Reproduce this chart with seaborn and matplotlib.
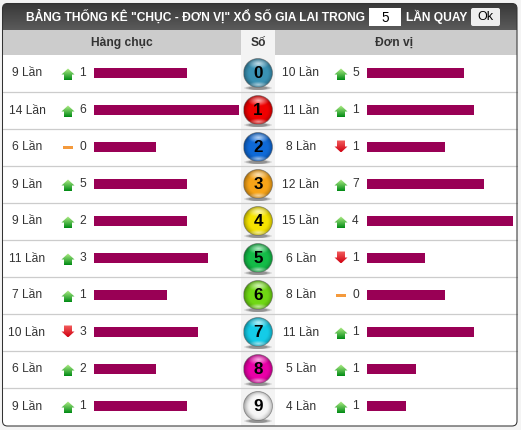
import numpy as np
import pandas as pd
import matplotlib
matplotlib.use("Agg")
import matplotlib.pyplot as plt
from matplotlib.colors import to_rgb
from matplotlib.patches import Circle, Ellipse, FancyBboxPatch, Polygon, Rectangle
import seaborn as sns

digits = ["0", "1", "2", "3", "4", "5", "6", "7", "8", "9"]
tens_counts = [9, 14, 6, 9, 9, 11, 7, 10, 6, 9]
tens_change = [1, 6, 0, 5, 2, 3, 1, -3, 2, 1]
units_counts = [10, 11, 8, 12, 15, 6, 8, 11, 5, 4]
units_change = [5, 1, -1, 7, 4, -1, 0, 1, 1, 1]
ball_colors = ["#3a92b4", "#f00000", "#0f6ad8", "#f8a418", "#f6e400",
               "#14bc48", "#70d814", "#14cce8", "#ea00a8", "#f6f6f6"]
title_left = 'BẢNG THỐNG KÊ "CHỤC - ĐƠN VỊ" XỔ SỐ GIA LAI TRONG'
title_right = "LẦN QUAY"
draw_count = "5"
button_label = "Ok"
tens_header = "Hàng chục"
units_header = "Đơn vị"
digit_header = "Số"
count_suffix = "Lần"

W, H = 521, 430
ROW0, ROW_H = 55, 37
BAR_COLOR = "#990055"
TEXT = "#333333"

sns.set_theme(style="white")
plt.rcParams["font.family"] = ["Liberation Sans", "DejaVu Sans"]

fig = plt.figure(figsize=(W / 100, H / 100), dpi=100, facecolor="#f4f4f4")
bg = fig.add_axes([0, 0, 1, 1], zorder=0)
bg.set_xlim(0, W)
bg.set_ylim(H, 0)
bg.axis("off")


def px(size):
    return size * 72 / 100


def gradient_patch(ax, patch, top, bottom, extent, zorder=2):
    """Fill a patch with a vertical two-colour gradient."""
    t = np.linspace(0, 1, 64)[:, None, None]
    img = (1 - t) * np.array(to_rgb(top))[None, None, :] + t * np.array(to_rgb(bottom))[None, None, :]
    patch.set(facecolor="none", edgecolor="none")
    ax.add_patch(patch)
    im = ax.imshow(img, extent=extent, aspect="auto", zorder=zorder, interpolation="bilinear")
    im.set_clip_path(patch)
    ax.set_xlim(0, W)
    ax.set_ylim(H, 0)


# Table body
bg.add_patch(FancyBboxPatch((2.5, 3.5), 514.5, 422.5, boxstyle="round,pad=0,rounding_size=5",
                            fc="white", ec="none", zorder=1))

# Dark title bar with rounded upper corners
bar_path = FancyBboxPatch((2.5, 3.5), 514.5, 40, boxstyle="round,pad=0,rounding_size=5")
bar_path.set_transform(bg.transData)
gradient_patch(bg, bar_path, "#383838", "#5c5c5c", (2.5, 517, 31, 3.5), zorder=2)
bg.add_patch(Rectangle((2.5, 30), 514.5, 25, fc="#cccccc", ec="none", zorder=3))
bg.add_patch(Rectangle((241, 30), 34, 396, fc="#f3f3f3", ec="none", zorder=3))

bg.text(195, 16.5, title_left, color="white", fontsize=px(12), fontweight="bold",
        ha="center", va="center", zorder=6)
bg.text(436.5, 16.5, title_right, color="white", fontsize=px(12), fontweight="bold",
        ha="center", va="center", zorder=6)
bg.add_patch(Rectangle((369, 8), 32, 18, fc="white", ec="none", zorder=5))
bg.text(385, 17.5, draw_count, color="black", fontsize=px(13.5), ha="center", va="center", zorder=6)
bg.add_patch(FancyBboxPatch((471, 8), 29, 18, boxstyle="round,pad=0,rounding_size=2",
                            fc="#eeeeee", ec="none", zorder=5))
bg.text(485.5, 17.5, button_label, color="black", fontsize=px(12.5), ha="center", va="center", zorder=6)

bg.text(122, 43, tens_header, color=TEXT, fontsize=px(12), fontweight="bold",
        ha="center", va="center", zorder=6)
bg.text(258, 43, digit_header, color=TEXT, fontsize=px(12), fontweight="bold",
        ha="center", va="center", zorder=6)
bg.text(394, 43, units_header, color=TEXT, fontsize=px(12), fontweight="bold",
        ha="center", va="center", zorder=6)


def draw_change(ax, x, y, value):
    """Trend marker: green up arrow, red down arrow or orange dash."""
    if value > 0:
        pts = [(x - 6.5, y + 1), (x, y - 5), (x + 6.5, y + 1), (x + 4, y + 1),
               (x + 4, y + 7), (x - 4, y + 7), (x - 4, y + 1)]
        gradient_patch(ax, Polygon(pts, closed=True), "#b4f08a", "#008a14",
                       (x - 7, x + 7, y + 7, y - 5), zorder=5)
    elif value < 0:
        pts = [(x - 4, y - 7), (x + 4, y - 7), (x + 4, y - 1), (x + 6.5, y - 1),
               (x, y + 5), (x - 6.5, y - 1), (x - 4, y - 1)]
        gradient_patch(ax, Polygon(pts, closed=True), "#f46060", "#d00010",
                       (x - 7, x + 7, y + 5, y - 7), zorder=5)
    else:
        ax.add_patch(Rectangle((x - 5, y - 2), 10, 3, fc="#f49a3c", ec="none", zorder=5))


def draw_ball(ax, cx, cy, color, label):
    """Glossy numbered ball with a soft shadow underneath."""
    r = 14.5
    for width, alpha in ((28, 0.18), (24, 0.25), (19, 0.35)):
        ax.add_patch(Ellipse((cx, cy + 15), width, 4, fc="#555555", ec="none",
                             alpha=alpha, zorder=4))
    n = 120
    xs = np.linspace(-1, 1, n)
    xx, yy = np.meshgrid(xs, xs)
    base = np.array(to_rgb(color))
    d = np.sqrt(xx ** 2 + (yy - 0.05) ** 2)
    shade = np.clip(1.08 - 0.4 * d ** 3.5, 0, 1)
    img = np.clip(base[None, None, :] * shade[:, :, None], 0, 1)
    top_gloss = np.clip(1 - np.sqrt((xx / 0.75) ** 2 + ((yy + 0.62) / 0.38) ** 2), 0, 1)[:, :, None]
    img = img * (1 - 0.7 * top_gloss) + 0.7 * top_gloss
    low_gloss = np.clip(1 - np.sqrt((xx / 0.7) ** 2 + ((yy - 0.85) / 0.22) ** 2), 0, 1)[:, :, None]
    img = img * (1 - 0.6 * low_gloss) + 0.6 * low_gloss
    disc = Circle((cx, cy), r, fc="none", ec="none", zorder=5)
    ax.add_patch(disc)
    im = ax.imshow(img, extent=(cx - r, cx + r, cy + r, cy - r), aspect="auto",
                   zorder=5, interpolation="bilinear")
    im.set_clip_path(disc)
    ax.add_patch(Circle((cx, cy), r, fc="none", ec="#666666", lw=0.5, alpha=0.7, zorder=6))
    ax.text(cx, cy + 0.5, label, color="black", fontsize=px(17), fontweight="bold",
            ha="center", va="center", zorder=7)


for i, digit in enumerate(digits):
    cy = ROW0 + ROW_H * (i + 0.5)
    if i:
        bg.plot([3, 517], [ROW0 + ROW_H * i] * 2, color="#cccccc", lw=0.9, zorder=4)
    draw_ball(bg, 258, cy - 0.5, ball_colors[i], digit)
    bg.text(27, cy, f"{tens_counts[i]} {count_suffix}", color=TEXT, fontsize=px(12),
            ha="center", va="center", zorder=6)
    bg.text(301, cy, f"{units_counts[i]} {count_suffix}", color=TEXT, fontsize=px(12),
            ha="center", va="center", zorder=6)
    draw_change(bg, 68, cy, tens_change[i])
    draw_change(bg, 341, cy, units_change[i])
    bg.text(82.5, cy - 0.5, str(abs(tens_change[i])), color=TEXT, fontsize=px(12),
            ha="center", va="center", zorder=6)
    bg.text(355.5, cy - 0.5, str(abs(units_change[i])), color=TEXT, fontsize=px(12),
            ha="center", va="center", zorder=6)

# Thin dark outline around the whole table
bg.add_patch(FancyBboxPatch((2.5, 3.5), 514.5, 422.5, boxstyle="round,pad=0,rounding_size=5",
                            fc="none", ec="#333333", lw=0.75, zorder=8))

# Frequency bars: one axes per digit position, sharing the table's row grid
table = pd.DataFrame({"digit": digits, "tens": tens_counts, "units": units_counts})


def bar_axes(left_px, right_px, column, xmax):
    ax = fig.add_axes([left_px / W, 1 - (ROW0 - 0.5 + 10 * ROW_H) / H,
                       (right_px - left_px) / W, 10 * ROW_H / H], zorder=2)
    sns.barplot(data=table, x=column, y="digit", order=digits, color=BAR_COLOR,
                saturation=1, width=10 / ROW_H, linewidth=0, ax=ax)
    ax.set_xlim(0, xmax)
    ax.set_ylim(9.5, -0.5)
    ax.patch.set_alpha(0)
    ax.axis("off")
    return ax


bar_axes(94, 239, "tens", max(tens_counts))
bar_axes(367, 513, "units", max(units_counts))

fig.savefig("out.png", dpi=100, facecolor=fig.get_facecolor())
